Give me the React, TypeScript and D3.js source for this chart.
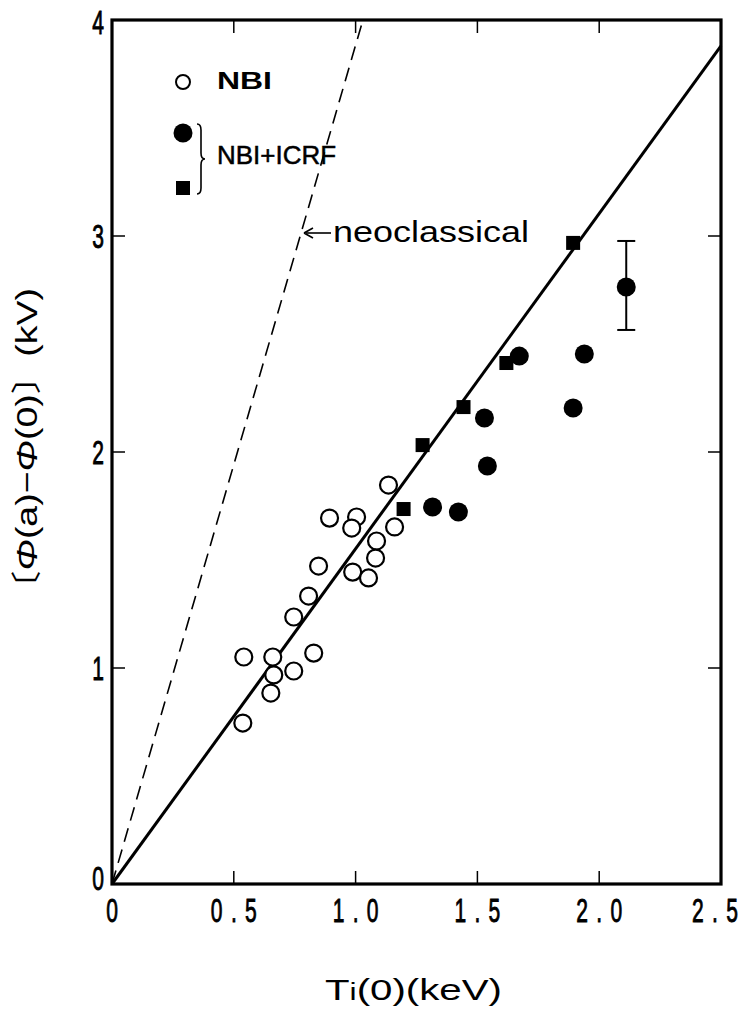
import React from "react";
import * as d3 from "d3";

// NBI (open circles)
const nbiX = [1.135, 0.893, 1.004, 0.984, 1.16, 1.086, 1.082, 0.848, 0.988, 1.053, 0.807, 0.746, 0.541, 0.66, 0.828, 0.664, 0.746, 0.652, 0.537];
const nbiY = [1.847, 1.694, 1.699, 1.648, 1.653, 1.588, 1.509, 1.472, 1.444, 1.417, 1.333, 1.236, 1.051, 1.051, 1.069, 0.968, 0.986, 0.884, 0.745];
// NBI+ICRF (filled circles)
const icrfCircX = [2.111, 1.672, 1.939, 1.893, 1.529, 1.541, 1.316, 1.422];
const icrfCircY = [2.764, 2.444, 2.454, 2.204, 2.157, 1.935, 1.745, 1.722];
// NBI+ICRF (filled squares)
const icrfSqX = [1.893, 1.619, 1.443, 1.275, 1.197];
const icrfSqY = [2.968, 2.412, 2.208, 2.032, 1.736];
// error bar on one point
const errX = [2.111];
const errLo = [2.565];
const errHi = [2.977];
// lines
const fitLine = [[0, 0], [2.5, 3.88]];
const neoLine = [[0, 0], [1.03, 4]];
// ticks
const xTicks = [0, 0.5, 1.0, 1.5, 2.0, 2.5];
const xTickLabels = ["0", "0.5", "1.0", "1.5", "2.0", "2.5"];
const yTicks = [0, 1, 2, 3, 4];
const yTickLabels = ["0", "1", "2", "3", "4"];

const W = 740;
const H = 1028;
const L = 112, R = 721, T = 20, B = 884;

export default function App() {
  const x = d3.scaleLinear().domain([0, 2.5]).range([L, R]);
  const y = d3.scaleLinear().domain([0, 4]).range([B, T]);
  const line = d3.line<number[]>().x((d) => x(d[0])).y((d) => y(d[1]));
  const font = "'Liberation Sans', Arial, sans-serif";
  const sq = 14;

  const tickLab = (s: string, cx: number, cy: number, anchor: string, key: string) => {
    const sx = 0.62;
    const tl = s.length > 1 ? 74 : undefined;
    return (
      <g key={key} transform={`translate(${cx},${cy}) scale(${sx},1)`}>
        <text
          x={0}
          y={12}
          fontFamily={font}
          fontSize={34}
          textAnchor={anchor as any}
          textLength={tl}
          lengthAdjust="spacing"
          fill="#000"
          stroke="#000"
          strokeWidth={0.9}
        >
          {s}
        </text>
      </g>
    );
  };

  return (
    <div style={{ position: "absolute", left: 0, top: 0 }}>
      <svg width={W} height={H} viewBox={`0 0 ${W} ${H}`} style={{ display: "block", background: "#fff" }}>
        <rect x={0} y={0} width={W} height={H} fill="#fff" />
        {/* lines */}
        <path d={line(neoLine as any) || ""} fill="none" stroke="#000" strokeWidth={1.6} strokeDasharray="14,8" />
        <path d={line(fitLine as any) || ""} fill="none" stroke="#000" strokeWidth={3} />
        {/* ticks */}
        {xTicks.slice(1, -1).map((t, i) => (
          <g key={"xt" + i}>
            <line x1={x(t)} x2={x(t)} y1={B} y2={B - 13} stroke="#000" strokeWidth={1.5} />
            <line x1={x(t)} x2={x(t)} y1={T} y2={T + 13} stroke="#000" strokeWidth={1.5} />
          </g>
        ))}
        {yTicks.slice(1, -1).map((t, i) => (
          <g key={"yt" + i}>
            <line x1={L} x2={L + 13} y1={y(t)} y2={y(t)} stroke="#000" strokeWidth={1.5} />
            <line x1={R} x2={R - 13} y1={y(t)} y2={y(t)} stroke="#000" strokeWidth={1.5} />
          </g>
        ))}
        {/* frame */}
        <rect x={L} y={T} width={R - L} height={B - T} fill="none" stroke="#000" strokeWidth={3.2} />
        {/* tick labels */}
        {xTicks.map((t, i) => tickLab(xTickLabels[i], i === 5 ? x(t) - 6 : x(t), 910, "middle", "xl" + i))}
        {yTicks.map((t, i) => tickLab(yTickLabels[i], 104, y(t) - (i === 0 ? 6 : 0) + (i === 4 ? 2 : 0), "end", "yl" + i))}
        {/* error bar */}
        {errX.map((v, i) => (
          <g key={"eb" + i} stroke="#000" strokeWidth={2}>
            <line x1={x(v)} x2={x(v)} y1={y(errLo[i])} y2={y(errHi[i])} />
            <line x1={x(v) - 9} x2={x(v) + 9} y1={y(errLo[i])} y2={y(errLo[i])} />
            <line x1={x(v) - 9} x2={x(v) + 9} y1={y(errHi[i])} y2={y(errHi[i])} />
          </g>
        ))}
        {/* NBI open circles */}
        {nbiX.map((v, i) => (
          <circle key={"n" + i} cx={x(v)} cy={y(nbiY[i])} r={8.5} fill="#fff" stroke="#000" strokeWidth={2.2} />
        ))}
        {/* filled circles */}
        {icrfCircX.map((v, i) => (
          <circle key={"c" + i} cx={x(v)} cy={y(icrfCircY[i])} r={9.5} fill="#000" />
        ))}
        {/* squares */}
        {icrfSqX.map((v, i) => (
          <rect key={"s" + i} x={x(v) - sq / 2} y={y(icrfSqY[i]) - sq / 2} width={sq} height={sq} fill="#000" />
        ))}
        {/* legend */}
        <circle cx={183} cy={82} r={7} fill="#fff" stroke="#000" strokeWidth={2} />
        <text x={217} y={89} fontFamily={font} fontSize={24} fontWeight="bold" textLength={55} lengthAdjust="spacingAndGlyphs">NBI</text>
        <circle cx={183} cy={133} r={9.5} fill="#000" />
        <rect x={176} y={181} width={14} height={14} fill="#000" />
        <path d="M197,124 Q201,124 201,130 L201,153 Q201,159 205,159 Q201,159 201,165 L201,188 Q201,194 197,194" fill="none" stroke="#000" strokeWidth={1.6} />
        <text x={217} y={164} fontFamily={font} fontSize={26} textLength={119} lengthAdjust="spacingAndGlyphs" stroke="#000" strokeWidth={0.5}>NBI+ICRF</text>
        {/* neoclassical arrow + label */}
        <line x1={306} x2={331} y1={233} y2={233} stroke="#000" strokeWidth={1.6} />
        <path d="M304,233 L313,228 M304,233 L313,238" stroke="#000" strokeWidth={1.6} fill="none" />
        <text x={333} y={242} fontFamily={font} fontSize={29} textLength={196} lengthAdjust="spacingAndGlyphs">neoclassical</text>
        {/* axis titles */}
        <text x={325} y={1000} fontFamily={font} fontSize={29} textLength={177} lengthAdjust="spacingAndGlyphs">
          T<tspan fontSize={23}>i</tspan>(0)(keV)
        </text>
        <g transform="translate(37,448) rotate(-90)">
          <text x={0} y={0} textAnchor="middle" fontFamily={font} fontSize={30} textLength={320} lengthAdjust="spacingAndGlyphs">
            <tspan fontFamily="'Noto Sans CJK JP', sans-serif">〔</tspan>
            <tspan fontStyle="italic">Φ</tspan>(a)−<tspan fontStyle="italic">Φ</tspan>(0)
            <tspan fontFamily="'Noto Sans CJK JP', sans-serif">〕</tspan>(kV)
          </text>
        </g>
      </svg>
    </div>
  );
}
